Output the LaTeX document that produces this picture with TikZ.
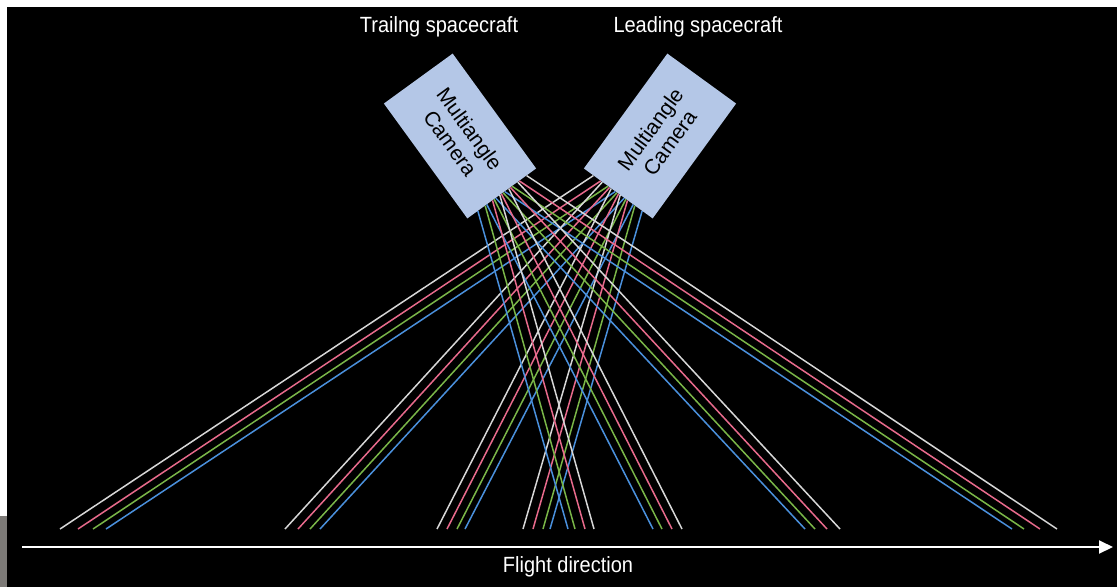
\documentclass[tikz,border=0pt]{standalone}
\usepackage{fontspec}
\setmainfont{Liberation Sans}
\usetikzlibrary{calc,arrows.meta}
\definecolor{rayw}{RGB}{215,215,215}
\definecolor{rayp}{RGB}{232,106,140}
\definecolor{rayg}{RGB}{122,182,72}
\definecolor{rayb}{RGB}{74,144,220}
\definecolor{camfill}{RGB}{180,199,231}
\definecolor{stripgrey}{RGB}{125,122,119}
\begin{document}
\begin{tikzpicture}[x=1pt,y=-1pt,
  cam/.style={draw=none,fill=camfill,minimum width=142pt,minimum height=85pt,
    inner sep=0pt,align=center,font=\fontsize{21}{24}\selectfont,text=black},
  ray/.style={line width=1.5pt},
  label/.style={text=white,font=\fontsize{20}{24}\selectfont,inner sep=0pt,yscale=1.1}]
\useasboundingbox (0,0) rectangle (1117,587);
\fill[white] (0,0) rectangle (1117,587);
\fill[black] (7,7) rectangle (1117,587);
\fill[stripgrey] (0,516) rectangle (7,587);

\node[label] (trailtxt) at (439,27) {Trailng spacecraft};
\node[label] (leadtxt) at (698,27) {Leading spacecraft};

\node[cam,rotate=-54] (trailcam) at (460,136) {Multiangle\\Camera};
\node[cam,rotate=54] (leadcam) at (660,136) {Multiangle\\Camera};

% leading camera rays (going down-left)
\foreach \k/\xw/\xp/\xg/\xb in {0/60/78/93/106, 1/285/298/310/320, 2/437/447/457/465, 3/523/533/543/550}{
  \foreach \c/\col/\x in {0/rayw/\xw, 1/rayp/\xp, 2/rayg/\xg, 3/rayb/\xb}{
    \coordinate (lb-\k-\c) at (\x,529);
    \draw[ray,\col] ($(leadcam.north west)!{(12+9*\c+11*\k)/85}!(leadcam.south west)$) -- (lb-\k-\c);
  }
}
% trailing camera rays (going down-right)
\foreach \k/\xw/\xp/\xg/\xb in {0/1057/1040/1024/1012, 1/840/827/815/805, 2/682/672/662/653, 3/594/585/575/568}{
  \foreach \c/\col/\x in {0/rayw/\xw, 1/rayp/\xp, 2/rayg/\xg, 3/rayb/\xb}{
    \coordinate (tb-\k-\c) at (\x,529);
    \draw[ray,\col] ($(trailcam.north east)!{(12+9*\c+11*\k)/85}!(trailcam.south east)$) -- (tb-\k-\c);
  }
}

\coordinate (flightstart) at (22,547);
\coordinate (flightend) at (1113,547);
\draw[white,line width=2pt,-{Triangle[length=14pt,width=13pt]}] (flightstart) -- (flightend);
\node[label] (flighttxt) at (568,567) {Flight direction};
\end{tikzpicture}
\end{document}
